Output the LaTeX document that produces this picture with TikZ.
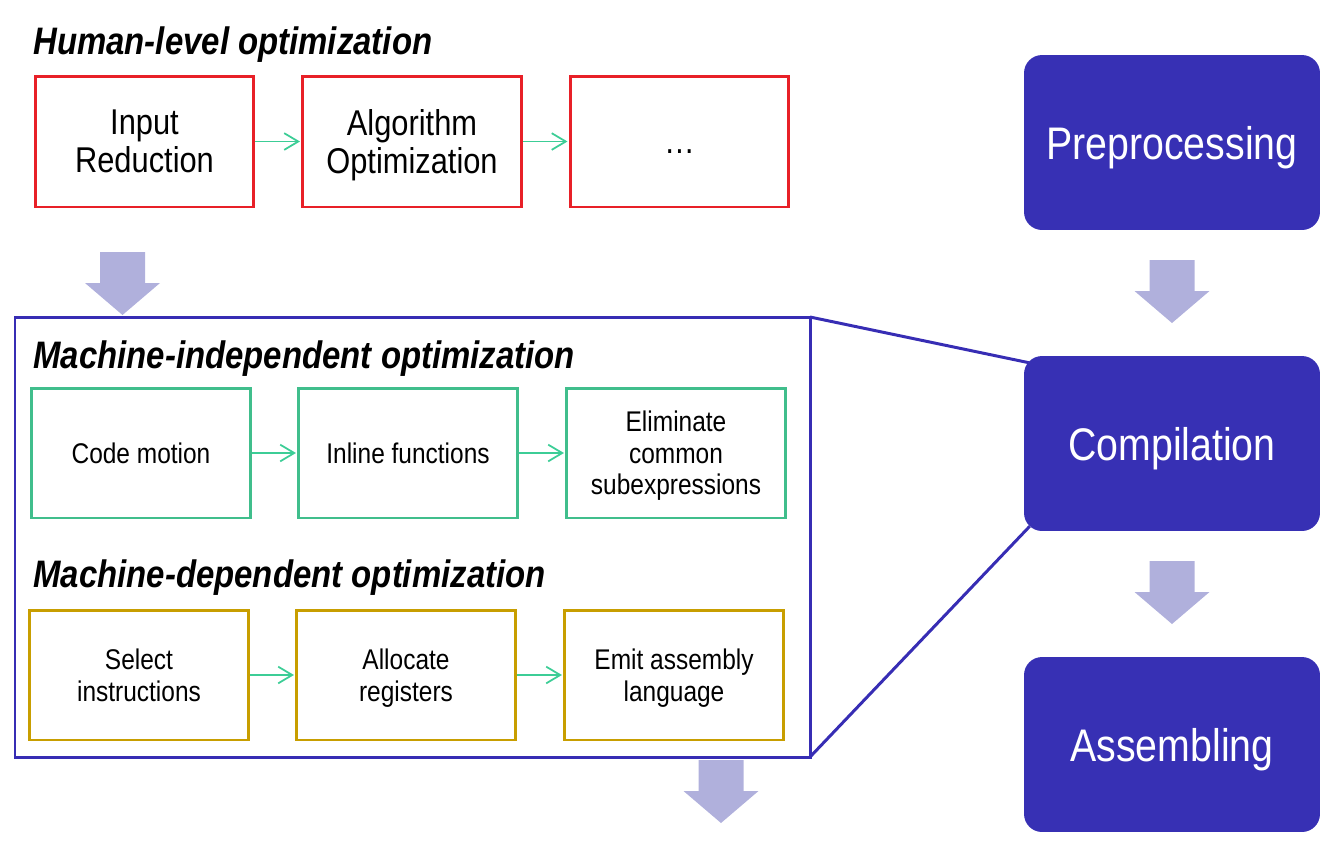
\documentclass[tikz,border=0pt]{standalone}
\usepackage{fontspec}
\setmainfont{Liberation Sans}[FakeStretch=0.86]
\usetikzlibrary{arrows.meta,backgrounds}

\definecolor{humanred}{RGB}{232,32,40}
\definecolor{indepgreen}{RGB}{64,190,140}
\definecolor{depgold}{RGB}{200,158,0}
\definecolor{stepgreen}{RGB}{60,205,150}
\definecolor{frameblue}{RGB}{55,45,180}
\definecolor{stageblue}{RGB}{55,48,180}
\definecolor{lavender}{RGB}{176,176,220}

\tikzset{
  optbox/.style={draw, line width=1.7pt, minimum width=4.38cm, minimum height=2.62cm, inner sep=0pt, text depth=0pt, align=center},
  humanbox/.style={optbox, draw=humanred, font=\fontsize{20.4}{21.5}\selectfont},
  indepbox/.style={optbox, draw=indepgreen, minimum height=2.6cm, font=\fontsize{16.2}{17.9}\selectfont},
  depbox/.style={optbox, draw=depgold, minimum height=2.6cm, font=\fontsize{16.2}{18.2}\selectfont},
  stagebox/.style={fill=stageblue, rounded corners=0.36cm, minimum width=5.92cm, minimum height=3.5cm, inner sep=0pt, text depth=0pt, text=white, font=\fontsize{26}{30}\selectfont},
  steparrow/.style={-{Straight Barb[length=8pt,width=9.5pt]}, draw=stepgreen, line width=1pt, shorten >=0.6pt},
  optitle/.style={anchor=west, inner sep=0pt, font=\fontsize{21.8}{24}\selectfont\bfseries\itshape},
  bigarrow/.style={fill=lavender},
  zoomline/.style={draw=frameblue, line width=1.7pt},
}

% fat down arrow: centre x, top y
\newcommand{\fatdown}[2]{\fill[bigarrow] (#1-22.5,#2) -- (#1+22.5,#2) -- (#1+22.5,#2+31) -- (#1+37.5,#2+31)
  -- (#1,#2+63) -- (#1-37.5,#2+31) -- (#1-22.5,#2+31) -- cycle;}

\begin{document}
\begin{tikzpicture}[x=0.02cm,y=-0.02cm]
\useasboundingbox (0,0) rectangle (1336,853);

% human-level
\node[optitle] (humtitle) at (33,45) {Human-level optimization};
\node[humanbox] (input) at (144.5,141.5) {Input\\Reduction};
\node[humanbox] (algo) at (412,141.5) {Algorithm\\Optimization};
\node[humanbox] (more) at (679.5,141.5) {\vphantom{I}…};
\draw[steparrow] (input) -- (algo);
\draw[steparrow] (algo) -- (more);

\fatdown{122.5}{252}

% zoomed compilation
\draw[zoomline] (15,317) rectangle (810,757);
\coordinate (fne) at (810,317);
\coordinate (fse) at (810,757);

\node[optitle] (indtitle) at (33,359) {Machine-independent optimization};
\node[indepbox] (motion) at (141,453) {Code motion};
\node[indepbox] (inline) at (408,453) {Inline functions};
\node[indepbox] (cse) at (676,453) {Eliminate\\common\\subexpressions};
\draw[steparrow] (motion) -- (inline);
\draw[steparrow] (inline) -- (cse);

\node[optitle] (deptitle) at (33,578) {Machine-dependent optimization};
\node[depbox] (select) at (139,675) {Select\\instructions};
\node[depbox] (alloc) at (406,675) {Allocate\\registers};
\node[depbox] (emit) at (674,675) {Emit assembly\\language};
\draw[steparrow] (select) -- (alloc);
\draw[steparrow] (alloc) -- (emit);

\fatdown{721}{760}

% stages
\node[stagebox] (prep) at (1172,142.5) {Preprocessing};
\node[stagebox] (comp) at (1172,443.5) {Compilation};
\node[stagebox] (asm) at (1172,744.5) {Assembling};
\fatdown{1172}{260}
\fatdown{1172}{561}

\begin{scope}[on background layer]
\draw[zoomline] (fne) -- ([shift={(5,7)}]comp.north west);
\draw[zoomline] (fse) -- ([shift={(6,-5)}]comp.south west);
\end{scope}
\end{tikzpicture}
\end{document}
